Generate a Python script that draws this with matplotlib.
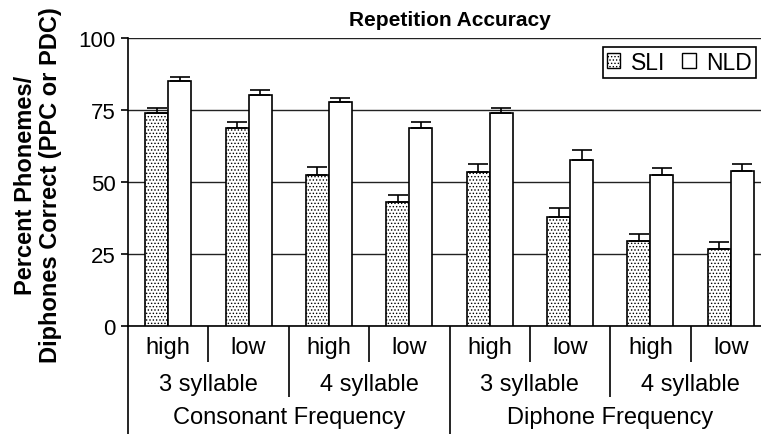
import matplotlib

matplotlib.use("Agg")
import matplotlib.pyplot as plt
import numpy as np
from matplotlib.patches import Patch

plt.rcParams["font.family"] = ["Liberation Sans", "DejaVu Sans"]
plt.rcParams["hatch.linewidth"] = 0.6

# values
sli = [74.0, 68.6, 52.4, 43.1, 53.4, 38.0, 29.5, 26.8]
sli_err = [1.8, 2.3, 2.7, 2.3, 2.7, 3.1, 2.3, 2.4]
nld = [85.2, 80.2, 77.7, 68.9, 73.8, 57.8, 52.5, 53.9]
nld_err = [1.2, 1.7, 1.6, 1.8, 2.0, 3.2, 2.2, 2.5]

freq_labels = ["high", "low", "high", "low", "high", "low", "high", "low"]
syllable_labels = ["3 syllable", "4 syllable", "3 syllable", "4 syllable"]
measure_labels = ["Consonant Frequency", "Diphone Frequency"]
y_ticks = [0, 25, 50, 75, 100]

LINE_W = 1.2
BAR_W = 0.286

fig = plt.figure(figsize=(7.61, 4.35), dpi=100)
ax = fig.add_axes([128 / 761, 108 / 435, 643 / 761, 288 / 435])

x = np.arange(len(sli))
zeros = np.zeros(len(sli))
err_kw = dict(ecolor="black", elinewidth=LINE_W, capsize=7, capthick=LINE_W)
ax.bar(x - BAR_W / 2, sli, BAR_W, color="white", edgecolor="black", hatch=".....",
       linewidth=LINE_W, yerr=[zeros, sli_err], error_kw=err_kw, zorder=3)
ax.bar(x + BAR_W / 2, nld, BAR_W, color="white", edgecolor="black",
       linewidth=LINE_W, yerr=[zeros, nld_err], error_kw=err_kw, zorder=3)

ax.set_xlim(-0.5, len(sli) - 0.5)
ax.set_ylim(0, 100)
ax.set_yticks(y_ticks)
ax.set_xticks([])
ax.tick_params(axis="y", direction="out", length=5, width=LINE_W, labelsize=16, pad=4)
ax.yaxis.grid(True, color="#222222", linewidth=1.0)
ax.set_axisbelow(True)
for side in ["left", "bottom"]:
    ax.spines[side].set_linewidth(LINE_W)
ax.spines["top"].set_visible(False)
ax.spines["right"].set_visible(False)

ax.set_title("Repetition Accuracy", fontsize=15, fontweight="bold", pad=9)
fig.text(38 / 761, 1 - 185 / 435, "Percent Phonemes/\nDiphones Correct (PPC or PDC)",
         rotation=90, ha="center", va="center", multialignment="center",
         fontsize=17, fontweight="bold", linespacing=1.15)

# hierarchical category labels below the axis
trans = ax.get_xaxis_transform()
for i, label in enumerate(freq_labels):
    ax.text(i, -0.073, label, transform=trans, ha="center", va="center", fontsize=17)
for i, label in enumerate(syllable_labels):
    ax.text(2 * i + 0.5, -0.2, label, transform=trans, ha="center", va="center", fontsize=17)
for i, label in enumerate(measure_labels):
    ax.text(4 * i + 1.5, -0.317, label, transform=trans, ha="center", va="center", fontsize=17)

for b in np.arange(-0.5, len(sli)):
    k = int(round(b + 0.5))
    if k % 4 == 0:
        depth = -0.4
    elif k % 2 == 0:
        depth = -0.247
    else:
        depth = -0.125
    ax.plot([b, b], [0, depth], transform=trans, color="black", linewidth=LINE_W,
            clip_on=False, solid_capstyle="butt")

handles = [Patch(facecolor="white", edgecolor="black", hatch=".....", linewidth=1.0, label="SLI"),
           Patch(facecolor="white", edgecolor="black", linewidth=1.0, label="NLD")]
leg = ax.legend(handles=handles, ncol=2, loc="upper right", bbox_to_anchor=(0.977, 0.97),
                borderaxespad=0, fontsize=16.5, handlelength=0.6, handleheight=0.6,
                handletextpad=0.45, columnspacing=0.75, fancybox=False, framealpha=1,
                borderpad=0.18)
leg.get_frame().set_edgecolor("black")
leg.get_frame().set_linewidth(LINE_W)

fig.savefig("out.png", dpi=100)
